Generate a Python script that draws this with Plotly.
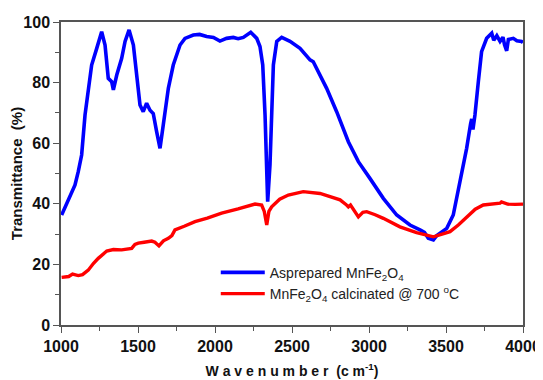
import plotly.graph_objects as go

# As-prepared MnFe2O4 (blue)
blue_x = [1004, 1047, 1070, 1091, 1112, 1134, 1156, 1177, 1199, 1232, 1264, 1286, 1307, 1329, 1340,
          1362, 1394, 1416, 1442, 1470, 1491, 1513, 1534, 1545, 1556, 1578, 1599, 1621, 1643,
          1664, 1697, 1729, 1773, 1805, 1859, 1900, 1946, 1990, 2032, 2075, 2119, 2150, 2184,
          2232, 2271, 2292, 2310, 2325, 2336, 2342, 2357, 2368, 2379, 2401, 2433, 2487, 2552,
          2617, 2638, 2725, 2790, 2866, 2931, 3006, 3093, 3180, 3266, 3331, 3360, 3385, 3418,
          3440, 3505, 3547, 3591, 3634, 3660, 3667, 3675, 3688, 3710, 3731, 3764, 3797, 3810,
          3830, 3851, 3870, 3880, 3894, 3905, 3937, 3960, 3991, 4000]
blue_y = [36.3, 41.3, 43.8, 46.2, 50.6, 56.1, 69.3, 78.1, 85.8, 91.3, 96.8, 92.4, 81.4, 80.3, 77.6,
          82.5, 88.0, 93.6, 97.4, 92.4, 82.5, 72.6, 70.4, 71.8, 73.2, 70.9, 69.8, 63.8, 58.3,
          66.0, 78.1, 85.8, 92.4, 94.6, 95.7, 95.9, 95.2, 94.9, 93.7, 94.6, 94.9, 94.5, 94.9,
          96.6, 94.6, 91.9, 85.8, 69.3, 52.8, 40.7, 52.8, 69.3, 85.8, 93.6, 94.9, 93.6, 91.3,
          87.5, 86.9, 78.1, 70.4, 60.5, 53.9, 48.4, 41.8, 36.3, 33.0, 31.4, 30.6, 28.6, 28.1,
          29.5, 31.9, 36.3, 47.3, 58.3, 66.5, 68.0, 64.5, 69.3, 80.3, 90.2, 94.6, 96.3, 94.0,
          95.5, 93.6, 95.0, 92.5, 90.5, 94.2, 94.6, 93.8, 93.6, 93.2]

# MnFe2O4 calcinated @ 700 C (red)
red_x = [1004, 1050, 1075, 1112, 1140, 1177, 1210, 1242, 1297, 1340, 1394, 1459, 1480, 1502,
         1540, 1589, 1610, 1636, 1665, 1697, 1720, 1740, 1800, 1870, 1950, 2043, 2150, 2260,
         2303, 2320, 2336, 2350, 2368, 2420, 2476, 2573, 2682, 2760, 2812, 2850, 2866, 2880,
         2898, 2915, 2931, 2960, 2985, 3040, 3093, 3201, 3309, 3418, 3526, 3580, 3634, 3690,
         3742, 3800, 3851, 3860, 3900, 3950, 4000]
red_y = [15.7, 16.0, 16.8, 16.3, 16.6, 18.1, 20.3, 22.0, 24.4, 24.9, 24.8, 25.3, 26.6, 27.0,
         27.3, 27.7, 27.3, 26.1, 27.8, 28.6, 29.5, 31.4, 32.6, 34.1, 35.3, 36.9, 38.3, 39.9,
         39.6, 37.5, 33.0, 37.5, 39.0, 41.5, 42.9, 44.0, 43.4, 42.2, 41.3, 39.8, 39.0, 39.6,
         38.2, 37.0, 35.7, 37.2, 37.4, 36.4, 35.2, 32.4, 30.5, 29.1, 30.8, 33.0, 35.7, 38.2,
         39.6, 39.8, 40.2, 40.6, 39.9, 39.8, 39.9]

x_ticks = [1000, 1500, 2000, 2500, 3000, 3500, 4000]
y_ticks = [0, 20, 40, 60, 80, 100]

FONT = "Arial, Liberation Sans"

fig = go.Figure()
fig.add_trace(go.Scatter(x=blue_x, y=blue_y, mode="lines",
                         line=dict(color="#0000FF", width=3.6),
                         name="Asprepared MnFe<sub>2</sub>O<sub>4</sub>"))
fig.add_trace(go.Scatter(x=red_x, y=red_y, mode="lines",
                         line=dict(color="#FF0000", width=3.4),
                         name="MnFe<sub>2</sub>O<sub>4</sub> calcinated @ 700 <sup>o</sup>C"))

axis_common = dict(showline=True, linecolor="#555555", linewidth=1.5, mirror=True,
                   ticks="outside", ticklen=6, tickwidth=1.2, tickcolor="#555555",
                   showgrid=False, zeroline=False, automargin=False,
                   tickfont=dict(family=FONT, size=16, color="#111111", weight="bold"))

fig.update_xaxes(range=[1000, 4000], tickvals=x_ticks,
                 minor=dict(dtick=250, ticks="outside", ticklen=4, tickcolor="#555555"),
                 title=dict(text="W a v e n u m b e r  (c m<sup>-1</sup>)",
                            font=dict(family=FONT, size=14, color="#111111", weight="bold"),
                            standoff=12),
                 **axis_common)
fig.update_yaxes(range=[0, 100], tickvals=y_ticks,
                 minor=dict(dtick=10, ticks="outside", ticklen=4, tickcolor="#555555"),
                 title=dict(text="Transmittance  (%)",
                            font=dict(family=FONT, size=15, color="#111111", weight="bold"),
                            standoff=6),
                 **axis_common)

fig.update_layout(width=535, height=372, plot_bgcolor="white", paper_bgcolor="white",
                  margin=dict(l=53, r=20, t=14, b=55),
                  showlegend=True,
                  legend=dict(x=0.335, y=0.225, xanchor="left", yanchor="top",
                              bgcolor="rgba(0,0,0,0)",
                              font=dict(family=FONT, size=14, color="#222222"),
                              tracegroupgap=0, itemwidth=44))

fig.write_html("out.html")
